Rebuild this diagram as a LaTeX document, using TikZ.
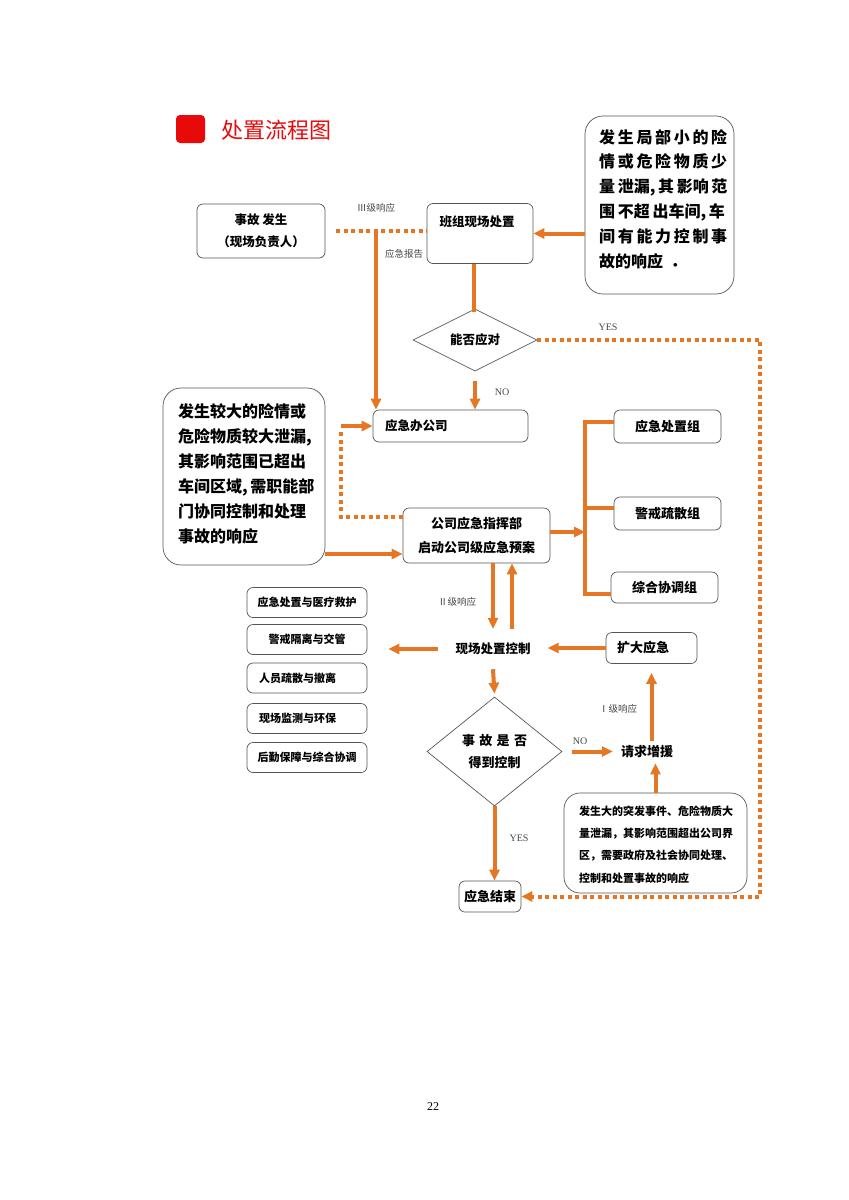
\documentclass[tikz,border=0pt]{standalone}
\usepackage{fontspec}
\setmainfont{Noto Sans CJK SC}
\newfontfamily\lserif{Liberation Serif}
\usetikzlibrary{arrows.meta,shapes.geometric}
\definecolor{org}{RGB}{228,118,36}
\definecolor{bord}{RGB}{85,85,85}
\definecolor{ttl}{RGB}{232,10,10}
\definecolor{lbl}{RGB}{70,70,70}
\newcommand{\fs}[2]{\fontsize{#1}{#2}\selectfont}
\begin{document}
\begin{tikzpicture}[x=1pt,y=-1pt,
  box/.style={draw=bord, line width=0.7pt, rounded corners=6pt, inner sep=0pt, align=center, font=\bfseries\fs{12.5}{22}},
  bigbox/.style={box, rounded corners=18pt},
  sbox/.style={box, minimum width=120pt, minimum height=30pt, font=\bfseries\fs{11}{13}},
  dia/.style={draw=bord, line width=0.7pt, diamond, inner sep=0pt, align=center, font=\bfseries\fs{12.5}{22}},
  oline/.style={draw=org, line width=4pt, line cap=butt, line join=miter},
  arr/.style={oline, -{Triangle[length=11pt,width=10pt]}},
  dotline/.style={oline, dash pattern=on 4pt off 3.5pt},
  lab/.style={text=lbl, font=\fs{9.5}{11}, inner sep=1pt},
  yn/.style={text=lbl, font=\lserif\fs{10}{11}, inner sep=1pt},
  txt/.style={inner sep=0pt, font=\bfseries\fs{12.5}{14}}
]
\useasboundingbox (0,0) rectangle (849,1200);

% title
\node[fill=ttl, rounded corners=4pt, minimum width=29pt, minimum height=28pt, inner sep=0pt] (rq) at (190.5,129) {};
\node[anchor=west, text=ttl, font=\fs{22}{24}, inner sep=0pt] (title) at (221,130) {处置流程图};

% top row
\node[box, minimum width=128pt, minimum height=54pt] (sg) at (261,231) {事故 发生\\（现场负责人）};
\node[box, minimum width=106pt, minimum height=60pt] (bz) at (480,233.5) {};
\node[txt] (bzt) at (477,222) {班组现场处置};
\node[bigbox, minimum width=149pt, minimum height=178pt] (rb1) at (659.5,205) {};
\node[anchor=west, align=left, inner sep=0pt, font=\bfseries\fs{16}{24.8}] (rb1t) at (599,199)
  {发\,生\,局\,部\,小\,的\,险\\情\,或\,危\,险\,物\,质\,少\\量\,泄漏,\,其\,影响\,范\\围\,不超\,出车间,\,车\\间\,有\,能\,力\,控\,制\,事\\故的响应 \ ．};

\coordinate (j1) at (376,231);
\node[lab] (l3) at (376,208) {Ⅲ级响应};
\node[lab] (lbg) at (404,254) {应急报告};

\draw[dotline] ([xshift=11pt]sg.east) -- (bz.west |- sg.east);
\draw[arr] (rb1.west |- bz.east) -- (bz.east);

% diamond 1
\node[dia, minimum width=124pt, minimum height=57pt] (d1) at (475,340) {能否应对};
\draw[oline] (bz.south -| 474,0) -- (474,312);
\node[yn] (yes1) at (608,327) {YES};
\node[yn] (no1) at (502,392) {NO};

% office
\node[box, minimum height=32pt, text width=131pt, inner xsep=12pt, align=left] (yj) at (450.5,426) {应急办公司};
\draw[arr] (j1) -- (j1 |- yj.north);
\draw[arr] ([yshift=-10pt]d1.south) -- (d1.south |- yj.north);

% left big box
\node[bigbox, minimum width=162pt, minimum height=177pt] (lb) at (244,476.5) {};
\node[anchor=west, align=left, inner sep=0pt, font=\bfseries\fs{16}{25}] (lbt) at (178,473.5)
  {发生较大的险情或\\危险物质较大泄漏,\\其影响范围已超出\\车间区域,\,需职能部\\门协同控制和处理\\事故的响应};

% command box
\node[box, minimum width=147pt, minimum height=55pt, font=\bfseries\fs{13}{24}] (gs) at (476.5,535.5) {公司应急指挥部\\启动公司级应急预案};
\draw[arr] (lb.east |- 0,554) -- (gs.west |- 0,554);
\coordinate (cL) at (341,470);
\draw[dotline] ([yshift=18.5pt]gs.west) -| (cL) -- (cL |- 0,430);
\draw[arr] (cL |- yj.west) -- (yj.west);

% groups
\node[box, minimum width=107pt, minimum height=33pt, font=\bfseries\fs{13}{14}] (g1) at (667.5,426.5) {应急处置组};
\node[box, minimum width=107pt, minimum height=33pt, font=\bfseries\fs{13}{14}] (g2) at (667.5,513.5) {警戒疏散组};
\node[box, minimum width=107pt, minimum height=31pt, font=\bfseries\fs{13}{14}] (g3) at (664.5,587.5) {综合协调组};
\coordinate (bx) at (585,500);
\draw[oline] ([yshift=4.5pt]g1.west) -| (bx) |- ([yshift=-6pt]g3.west);
\draw[oline] (bx |- 0,507.5) -- (g2.west |- 0,507.5);
\draw[arr] ([yshift=3.5pt]gs.east) -- ([yshift=3.5pt]gs.east -| bx);

% field control
\node[txt, inner xsep=17pt, inner ysep=14pt] (xc) at (493,649) {现场处置控制};
\node[lab] (l2) at (457,602) {Ⅱ级响应};
\draw[arr] (xc.north |- gs.south) -- (xc.north);
\draw[arr] ([xshift=19pt]xc.north) -- ([xshift=19pt]xc.north |- gs.south);

% small boxes
\node[sbox] (sb1) at (307,602.5) {应急处置与医疗救护};
\node[sbox] (sb2) at (307,639.5) {警戒隔离与交管};
\node[sbox, text width=96pt, inner xsep=12pt, align=left] (sb3) at (307,678) {人员疏散与撤离};
\node[sbox, text width=96pt, inner xsep=12pt, align=left] (sb4) at (307,718.5) {现场监测与环保};
\node[sbox] (sb5) at (307,757.5) {后勤保障与综合协调};
\draw[arr, shorten >=21pt] (xc.west) -- (xc.west -| sb2.east);

% expand
\node[box, minimum height=31pt, text width=69pt, inner xsep=11pt, align=left, font=\bfseries\fs{13}{14}] (kd) at (651.5,648) {扩大应急};
\draw[arr] (kd.west) -- (kd.west -| xc.east);

% diamond 2
\node[dia, minimum width=135pt, minimum height=109pt, font=\bfseries\fs{13}{22}] (d2) at (494.5,751.5) {事\,\,故\,\,是\,\,否\\得到控制};
\draw[arr] (xc.south) -- ([yshift=3pt]d2.north);

\node[txt, inner xsep=8pt, inner ysep=5pt, font=\bfseries\fs{13}{14}] (qq) at (647,752) {请求增援};
\node[yn] (no2) at (580,741) {NO};
\draw[arr] ([xshift=10pt]d2.east) -- (qq.west |- d2.east);
\draw[arr] (kd.south |- qq.north) -- ([yshift=-9pt]kd.south);
\node[lab] (l1) at (618,709) {Ⅰ级响应};

% bottom right box
\node[box, rounded corners=16pt, minimum width=183pt, minimum height=100pt] (rb2) at (655.5,843) {};
\node[anchor=west, align=left, inner sep=0pt, font=\bfseries\fs{11}{22.3}] (rb2t) at (579,844.5)
  {发生大的突发事件、危险物质大\\量泄漏，其影响范围超出公司界\\区，需要政府及社会协同处理、\\控制和处置事故的响应};
\draw[arr] (rb2.north) -- (rb2.north |- qq.south);

% end
\node[box, minimum width=62pt, minimum height=31pt, font=\bfseries\fs{13}{14}] (js) at (490,896.5) {应急结束};
\node[yn] (yes2) at (519,838) {YES};
\draw[arr] (d2.south) -- (d2.south |- js.north);

\coordinate (cR) at (760,620);
\draw[dotline] (d1.east) -| (cR);
\draw[dotline, -{Triangle[length=11pt,width=10pt]}] (cR) |- (js.east);

% page number
\node[font=\lserif\fs{12}{14}, inner sep=0pt] (pg) at (433,1107) {22};
\end{tikzpicture}
\end{document}
